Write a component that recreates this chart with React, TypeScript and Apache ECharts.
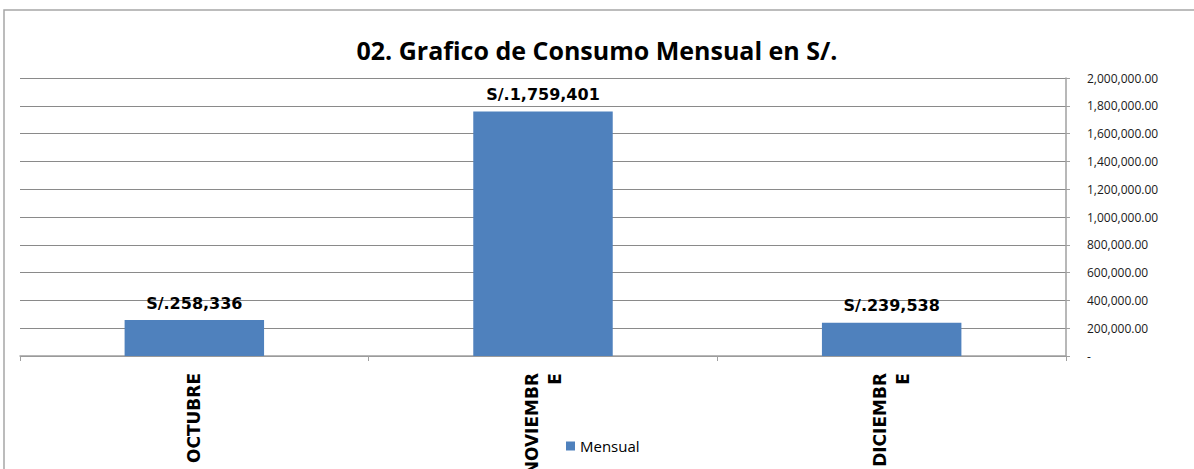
import React, { useEffect, useRef } from "react";
import * as echarts from "echarts";

const titleText = "02. Grafico de Consumo Mensual en S/.";
const categories = ["OCTUBRE", "NOVIEMBRE", "DICIEMBRE"];
const categoryLabels = ["OCTUBRE", "NOVIEMBR\nE", "DICIEMBR\nE"];
const mensual = [258336, 1759401, 239538];
const seriesName = "Mensual";
const yMax = 2000000;
const yInterval = 200000;

export default function App() {
  const ref = useRef<HTMLDivElement>(null);
  useEffect(() => {
    if (!ref.current) return;
    const chart = echarts.init(ref.current, undefined, { renderer: "svg" });
    chart.setOption({
      animation: false,
      backgroundColor: "#ffffff",
      title: {
        text: titleText,
        left: "center",
        top: 32,
        textStyle: {
          fontFamily: "Open Sans",
          fontWeight: 700,
          fontSize: 25,
          color: "#000",
        },
      },
      legend: {
        data: [seriesName],
        left: 566,
        top: 437,
        padding: 0,
        icon: "rect",
        itemWidth: 9,
        itemHeight: 9,
        itemGap: 4,
        textStyle: {
          fontFamily: "Open Sans",
          fontSize: 15,
          color: "#000",
          lineHeight: 18,
        },
      },
      grid: {
        left: 20,
        right: 128,
        top: 78,
        bottom: 113,
        containLabel: false,
        outerBoundsMode: "none",
      },
      xAxis: {
        type: "category",
        data: categories,
        axisLine: { show: true, lineStyle: { color: "#a0a0a0", width: 1.5 } },
        axisTick: { show: true, length: 5, lineStyle: { color: "#a0a0a0" } },
        axisLabel: {
          rotate: 90,
          margin: 17,
          fontFamily: "DejaVu Sans",
          fontWeight: "bold",
          fontSize: 17,
          lineHeight: 23,
          color: "#000",
          formatter: (_v: string, i: number) => categoryLabels[i],
        },
        splitLine: { show: false },
      },
      yAxis: {
        type: "value",
        position: "right",
        min: 0,
        max: yMax,
        interval: yInterval,
        axisLine: { show: true, lineStyle: { color: "#a0a0a0", width: 1.5 } },
        axisTick: { show: true, inside: false, length: 4, lineStyle: { color: "#a0a0a0" } },
        axisLabel: {
          margin: 21,
          fontFamily: "Open Sans",
          fontSize: 12,
          color: "#1a1a1a",
          formatter: (v: number) =>
            v === 0
              ? "-"
              : v.toLocaleString("en-US", { minimumFractionDigits: 2, maximumFractionDigits: 2 }),
        },
        splitLine: { show: true, lineStyle: { color: "#8a8a8a", width: 1 } },
      },
      series: [
        {
          name: seriesName,
          type: "bar",
          data: mensual,
          barWidth: "40%",
          itemStyle: { color: "#4f81bd" },
          label: {
            show: true,
            position: "top",
            distance: 9,
            fontFamily: "DejaVu Sans",
            fontWeight: "bold",
            fontSize: 16,
            color: "#000",
            formatter: (p: any) => "S/." + Number(p.value).toLocaleString("en-US"),
          },
        },
      ],
      graphic: [
        {
          type: "rect",
          shape: { x: 4, y: 10, width: 1300, height: 600 },
          style: { fill: "none", stroke: "#a6a6a6", lineWidth: 1.5 },
          silent: true,
        },
      ],
    });
    return () => chart.dispose();
  }, []);
  return (
    <div
      ref={ref}
      style={{ position: "fixed", left: 0, top: 0, width: 1194, height: 469 }}
    />
  );
}
